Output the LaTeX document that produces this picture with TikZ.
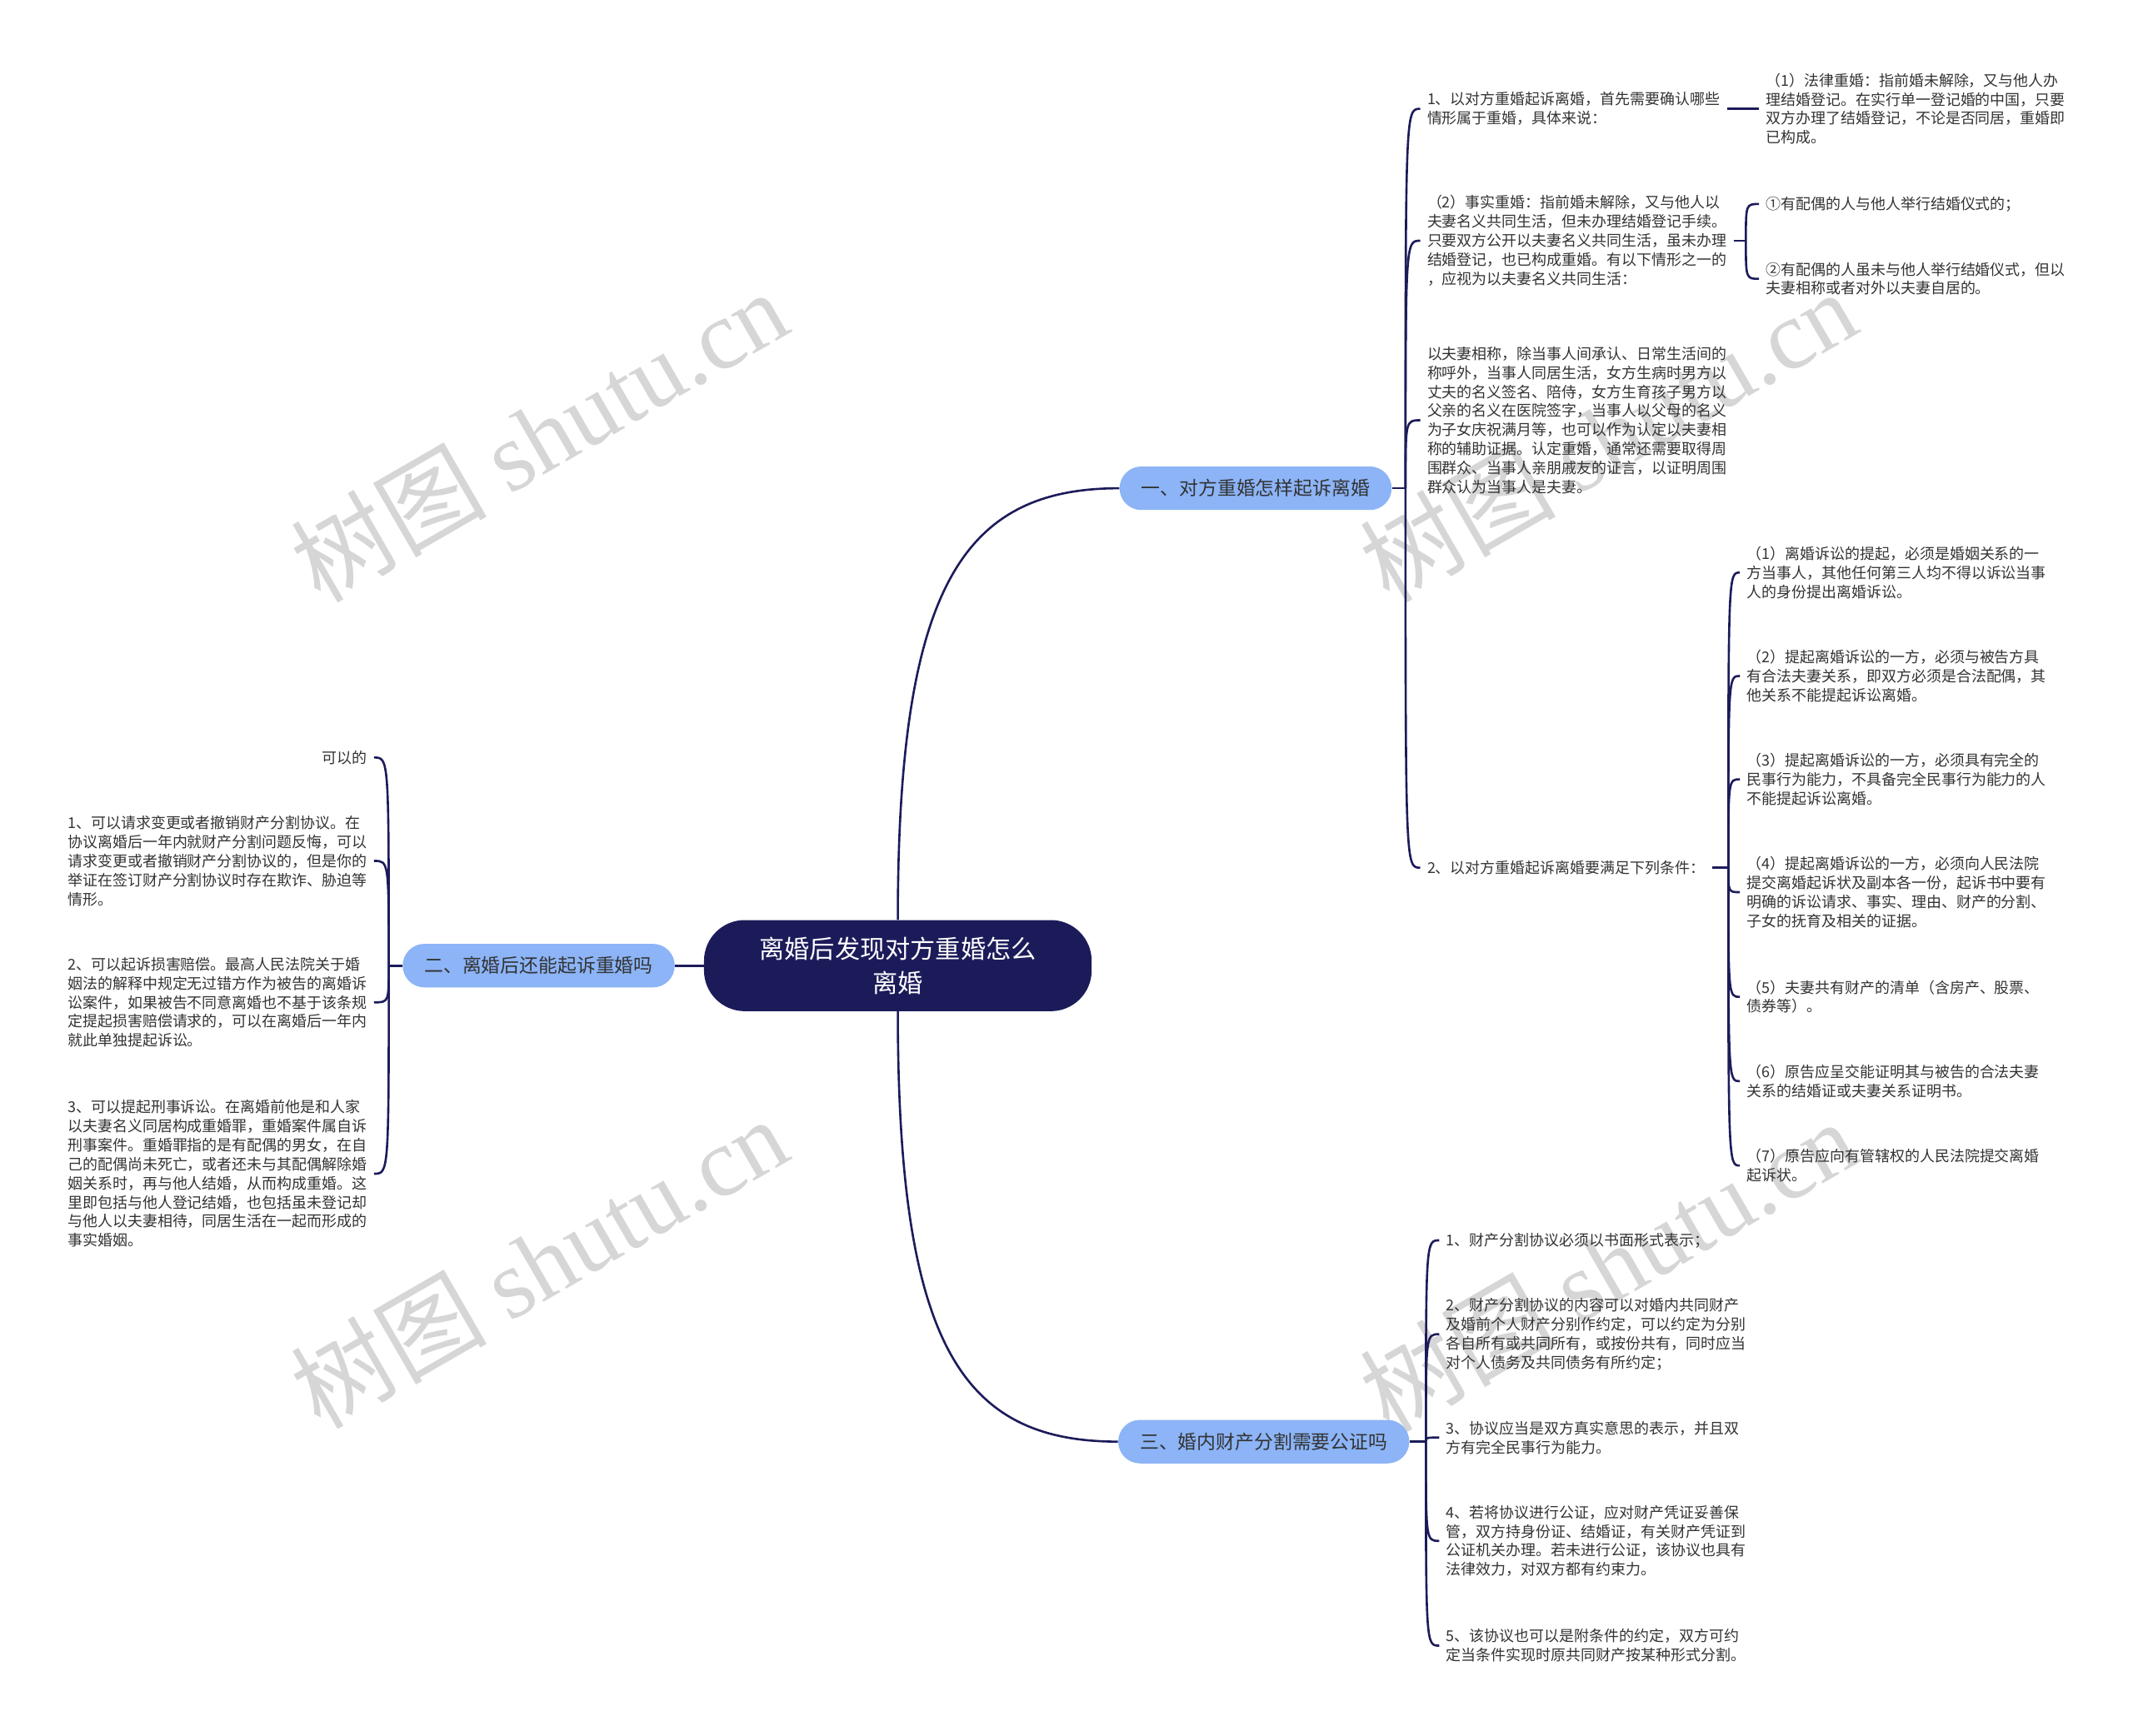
\documentclass[tikz,border=0pt]{standalone}
\usepackage{fontspec}
\setmainfont{Noto Sans CJK SC}
\newfontfamily\wmlatin{Liberation Serif}
\definecolor{navy}{RGB}{28,27,90}
\definecolor{brfill}{RGB}{140,180,247}
\definecolor{txt}{RGB}{51,51,51}
\definecolor{wmc}{RGB}{214,214,214}
\begin{document}
\begin{tikzpicture}[x=1pt,y=-1pt,
  leaf/.style={font=\fontsize{11}{14}\selectfont,text=txt,align=left,inner xsep=5pt,inner ysep=1pt},
  conn/.style={draw=navy,line width=1.6pt},
  branchbox/.style={fill=brfill,rounded corners=16pt,minimum height=32pt,inner xsep=16pt,font=\fontsize{14}{17}\selectfont,text=txt},
  rootbox/.style={fill=navy,text=white,rounded corners=30pt,minimum width=285pt,minimum height=67pt,align=center,font=\fontsize{18.5}{25}\selectfont},
  wmark/.style={rotate=30,text=wmc,font=\fontsize{72}{72}\selectfont}]
\fill[white] (0,0) rectangle (1568,1276);
\useasboundingbox (0,0) rectangle (1568,1276);

% watermarks
\node[wmark] (w1) at (396,320) {树图 {\wmlatin shutu.cn}};
\node[wmark] (w2) at (1182,320) {树图 {\wmlatin shutu.cn}};
\node[wmark] (w3) at (396,928) {树图 {\wmlatin shutu.cn}};
\node[wmark] (w4) at (1182,930) {树图 {\wmlatin shutu.cn}};

% root and branches
\node[rootbox] (r) at (660,710) {离婚后发现对方重婚怎么\\离婚};
\node[branchbox] (b1) at (923,359) {一、对方重婚怎样起诉离婚};
\node[branchbox] (b2) at (396,710) {二、离婚后还能起诉重婚吗};
\node[branchbox] (b3) at (929,1060) {三、婚内财产分割需要公证吗};

% branch 1 children
\node[leaf,anchor=west] (n11) at (1044,80) {1、以对方重婚起诉离婚，首先需要确认哪些\\情形属于重婚，具体来说：};
\node[leaf,anchor=west] (n111) at (1293,80) {（1）法律重婚：指前婚未解除，又与他人办\\理结婚登记。在实行单一登记婚的中国，只要\\双方办理了结婚登记，不论是否同居，重婚即\\已构成。};
\node[leaf,anchor=west] (n12) at (1044,177) {（2）事实重婚：指前婚未解除，又与他人以\\夫妻名义共同生活，但未办理结婚登记手续。\\只要双方公开以夫妻名义共同生活，虽未办理\\结婚登记，也已构成重婚。有以下情形之一的\\，应视为以夫妻名义共同生活：};
\node[leaf,anchor=west] (n121) at (1293,150) {①有配偶的人与他人举行结婚仪式的；};
\node[leaf,anchor=west] (n122) at (1293,205) {②有配偶的人虽未与他人举行结婚仪式，但以\\夫妻相称或者对外以夫妻自居的。};
\node[leaf,anchor=west] (n13) at (1044,309) {以夫妻相称，除当事人间承认、日常生活间的\\称呼外，当事人同居生活，女方生病时男方以\\丈夫的名义签名、陪侍，女方生育孩子男方以\\父亲的名义在医院签字，当事人以父母的名义\\为子女庆祝满月等，也可以作为认定以夫妻相\\称的辅助证据。认定重婚，通常还需要取得周\\围群众、当事人亲朋戚友的证言，以证明周围\\群众认为当事人是夫妻。};
\node[leaf,anchor=west] (n14) at (1044,638) {2、以对方重婚起诉离婚要满足下列条件：};
\node[leaf,anchor=west] (n141) at (1279,421) {（1）离婚诉讼的提起，必须是婚姻关系的一\\方当事人，其他任何第三人均不得以诉讼当事\\人的身份提出离婚诉讼。};
\node[leaf,anchor=west] (n142) at (1279,497) {（2）提起离婚诉讼的一方，必须与被告方具\\有合法夫妻关系，即双方必须是合法配偶，其\\他关系不能提起诉讼离婚。};
\node[leaf,anchor=west] (n143) at (1279,573) {（3）提起离婚诉讼的一方，必须具有完全的\\民事行为能力，不具备完全民事行为能力的人\\不能提起诉讼离婚。};
\node[leaf,anchor=west] (n144) at (1279,656) {（4）提起离婚诉讼的一方，必须向人民法院\\提交离婚起诉状及副本各一份，起诉书中要有\\明确的诉讼请求、事实、理由、财产的分割、\\子女的抚育及相关的证据。};
\node[leaf,anchor=west] (n145) at (1279,733) {（5）夫妻共有财产的清单（含房产、股票、\\债券等）。};
\node[leaf,anchor=west] (n146) at (1279,795) {（6）原告应呈交能证明其与被告的合法夫妻\\关系的结婚证或夫妻关系证明书。};
\node[leaf,anchor=west] (n147) at (1279,857) {（7）原告应向有管辖权的人民法院提交离婚\\起诉状。};

% branch 2 children
\node[leaf,anchor=east] (n21) at (275,557) {可以的};
\node[leaf,anchor=east] (n22) at (275,633) {1、可以请求变更或者撤销财产分割协议。在\\协议离婚后一年内就财产分割问题反悔，可以\\请求变更或者撤销财产分割协议的，但是你的\\举证在签订财产分割协议时存在欺诈、胁迫等\\情形。};
\node[leaf,anchor=east] (n23) at (275,737) {2、可以起诉损害赔偿。最高人民法院关于婚\\姻法的解释中规定无过错方作为被告的离婚诉\\讼案件，如果被告不同意离婚也不基于该条规\\定提起损害赔偿请求的，可以在离婚后一年内\\就此单独提起诉讼。};
\node[leaf,anchor=east] (n24) at (275,863) {3、可以提起刑事诉讼。在离婚前他是和人家\\以夫妻名义同居构成重婚罪，重婚案件属自诉\\刑事案件。重婚罪指的是有配偶的男女，在自\\己的配偶尚未死亡，或者还未与其配偶解除婚\\姻关系时，再与他人结婚，从而构成重婚。这\\里即包括与他人登记结婚，也包括虽未登记却\\与他人以夫妻相待，同居生活在一起而形成的\\事实婚姻。};

% branch 3 children
\node[leaf,anchor=west] (n31) at (1058,912) {1、财产分割协议必须以书面形式表示；};
\node[leaf,anchor=west] (n32) at (1058,981) {2、财产分割协议的内容可以对婚内共同财产\\及婚前个人财产分别作约定，可以约定为分别\\各自所有或共同所有，或按份共有，同时应当\\对个人债务及共同债务有所约定；};
\node[leaf,anchor=west] (n33) at (1058,1057) {3、协议应当是双方真实意思的表示，并且双\\方有完全民事行为能力。};
\node[leaf,anchor=west] (n34) at (1058,1133) {4、若将协议进行公证，应对财产凭证妥善保\\管，双方持身份证、结婚证，有关财产凭证到\\公证机关办理。若未进行公证，该协议也具有\\法律效力，对双方都有约束力。};
\node[leaf,anchor=west] (n35) at (1058,1210) {5、该协议也可以是附条件的约定，双方可约\\定当条件实现时原共同财产按某种形式分割。};

% root connectors
\draw[conn] (r.north) to[out=90,in=180,out distance=245pt,in distance=115pt] (b1.west);
\draw[conn] (r.south) to[out=-90,in=180,out distance=245pt,in distance=115pt] (b3.west);
\draw[conn] (r.west) -- (b2.east);

% branch 1 trunk
\coordinate (t1) at ([xshift=10pt]b1.east);
\draw[conn] (b1.east) -- (t1);
\foreach \c in {n11,n12,n13,n14}
  \draw[conn] (t1) .. controls (t1 |- \c.west) and (t1 |- \c.west) .. (\c.west);
\draw[conn] (n11.east) -- (n11.east -| n111.west);
\coordinate (t12) at ([xshift=9pt]n12.east);
\draw[conn] (n12.east) -- (t12);
\foreach \c in {n121,n122}
  \draw[conn] (t12) .. controls (t12 |- \c.west) and (t12 |- \c.west) .. (\c.west);
\coordinate (t14) at ([xshift=12pt]n14.east);
\draw[conn] (n14.east) -- (t14);
\foreach \c in {n141,n142,n143,n144,n145,n146,n147}
  \draw[conn] (t14) .. controls (t14 |- \c.west) and (t14 |- \c.west) .. (\c.west);

% branch 2 trunk
\coordinate (t2) at ([xshift=-10pt]b2.west);
\draw[conn] (b2.west) -- (t2);
\foreach \c in {n21,n22,n23,n24}
  \draw[conn] (t2) .. controls (t2 |- \c.east) and (t2 |- \c.east) .. (\c.east);

% branch 3 trunk
\coordinate (t3) at ([xshift=12pt]b3.east);
\draw[conn] (b3.east) -- (t3);
\foreach \c in {n31,n32,n33,n34,n35}
  \draw[conn] (t3) .. controls (t3 |- \c.west) and (t3 |- \c.west) .. (\c.west);
\end{tikzpicture}
\end{document}
